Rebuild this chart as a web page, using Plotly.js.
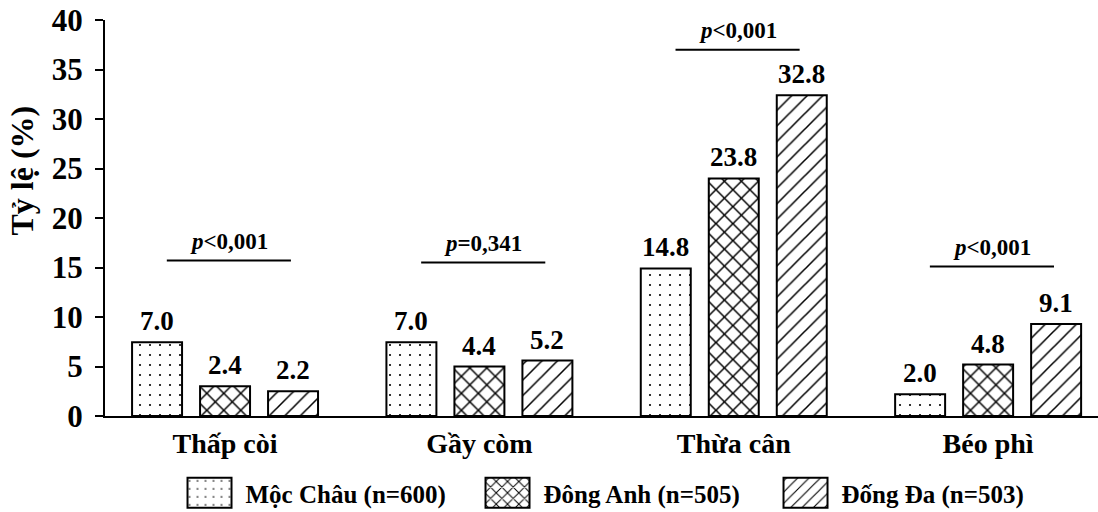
<!DOCTYPE html>
<html>
<head>
<meta charset="utf-8">
<script src="https://cdn.plot.ly/plotly-3.0.1.min.js"></script>
<style>
html,body{margin:0;padding:0;background:#fff;}
#chart{width:1098px;height:512px;}
</style>
</head>
<body>
<div id="chart"></div>
<script>
// ---- data ----
const categories = ['Thấp còi', 'Gầy còm', 'Thừa cân', 'Béo phì'];
const seriesNames = ['Mộc Châu (n=600)', 'Đông Anh (n=505)', 'Đống Đa (n=503)'];
// bar heights as drawn in the figure
const mocChau = [7.45, 7.45, 14.9, 2.2];
const dongAnh = [3.0, 5.0, 24.0, 5.2];
const dongDa  = [2.5, 5.6, 32.4, 9.3];
// printed value labels
const mocChauLabels = ['7.0', '7.0', '14.8', '2.0'];
const dongAnhLabels = ['2.4', '4.4', '23.8', '4.8'];
const dongDaLabels  = ['2.2', '5.2', '32.8', '9.1'];
// p-values per category
const pValues = ['<i>p</i>&lt;0,001', '<i>p</i>=0,341', '<i>p</i>&lt;0,001', '<i>p</i>&lt;0,001'];
const pLineLevels = [15.7, 15.5, 37.0, 15.1];
const yTicks = [0, 5, 10, 15, 20, 25, 30, 35, 40];

// ---- style ----
const FONT = 'Liberation Serif, Times New Roman, serif';
const BARGAP = 0.198, BARGROUPGAP = 0.265;
const patterns = [
  {shape: '.', size: 10, solidity: 0.035, fgcolor: '#000', bgcolor: '#fff', fillmode: 'replace'},
  {shape: 'x', size: 12, solidity: 0.23, fgcolor: '#000', bgcolor: '#fff', fillmode: 'replace'},
  {shape: '/', size: 11, solidity: 0.14, fgcolor: '#000', bgcolor: '#fff', fillmode: 'replace'}
];
const allValues = [mocChau, dongAnh, dongDa];
const allLabels = [mocChauLabels, dongAnhLabels, dongDaLabels];

const traces = allValues.map((vals, s) => ({
  type: 'bar',
  name: seriesNames[s],
  x: categories,
  y: vals,
  marker: {color: '#fff', pattern: patterns[s], line: {color: '#000', width: 2}},
  hoverinfo: 'skip'
}));

const slot = (1 - BARGAP) / 3;
const annotations = [];
allLabels.forEach((labs, s) => {
  labs.forEach((t, i) => {
    annotations.push({
      xref: 'x', yref: 'y', x: i + (s - 1) * slot, y: allValues[s][i],
      text: t, showarrow: false, yanchor: 'middle', yshift: 21,
      font: {family: FONT, size: 27, color: '#000', weight: 'bold'}
    });
  });
});
const shapes = [];
pValues.forEach((p, i) => {
  shapes.push({type: 'line', xref: 'x', yref: 'y', x0: i + 0.015 - 0.244, x1: i + 0.015 + 0.244,
    y0: pLineLevels[i], y1: pLineLevels[i], line: {color: '#000', width: 2}});
  annotations.push({
    xref: 'x', yref: 'y', x: i + 0.015, y: pLineLevels[i], text: p, showarrow: false,
    yanchor: 'middle', yshift: 19,
    font: {family: FONT, size: 23, color: '#000', weight: 'bold'}
  });
});
// y-axis title
annotations.push({
  xref: 'paper', yref: 'paper', x: 0, xshift: -83, y: 0.62, text: 'Tỷ lệ (%)',
  textangle: -90, showarrow: false, xanchor: 'center', yanchor: 'middle',
  font: {family: FONT, size: 32, color: '#000', weight: 'bold'}
});

const layout = {
  width: 1098, height: 512,
  margin: {l: 105, r: 0, t: 20, b: 96, autoexpand: false},
  paper_bgcolor: '#fff', plot_bgcolor: '#fff',
  barmode: 'group', bargap: BARGAP, bargroupgap: BARGROUPGAP,
  font: {family: FONT, color: '#000', weight: 'bold'},
  xaxis: {
    type: 'category', range: [-0.472, 3.432], showline: true, linecolor: '#000', linewidth: 2,
    ticks: '', showgrid: false, zeroline: false, ticklabelstandoff: 1, automargin: false,
    tickfont: {family: FONT, size: 28, color: '#000', weight: 'bold'}
  },
  yaxis: {
    range: [0, 40], tickvals: yTicks, showline: true, linecolor: '#000', linewidth: 2,
    ticks: 'outside', ticklen: 8, tickwidth: 2, tickcolor: '#000', showgrid: false, zeroline: false,
    ticklabelstandoff: 6, automargin: false,
    tickfont: {family: FONT, size: 31, color: '#000', weight: 'bold'}
  },
  showlegend: true,
  legend: {
    orientation: 'h', xref: 'paper', x: 0.069, xanchor: 'left',
    yref: 'container', y: 0.037, yanchor: 'middle',
    itemwidth: 62, entrywidth: 221, traceorder: 'normal',
    font: {family: FONT, size: 25, color: '#000', weight: 'bold'},
    itemclick: false, itemdoubleclick: false
  },
  annotations: annotations,
  shapes: shapes
};

Plotly.newPlot('chart', traces, layout, {staticPlot: true, displayModeBar: false}).then(gd => {
  gd.querySelectorAll('.legend .legendpoints path').forEach(p => {
    p.setAttribute('d', 'M22,15H-22V-15H22Z');
  });
});
</script>
</body>
</html>
